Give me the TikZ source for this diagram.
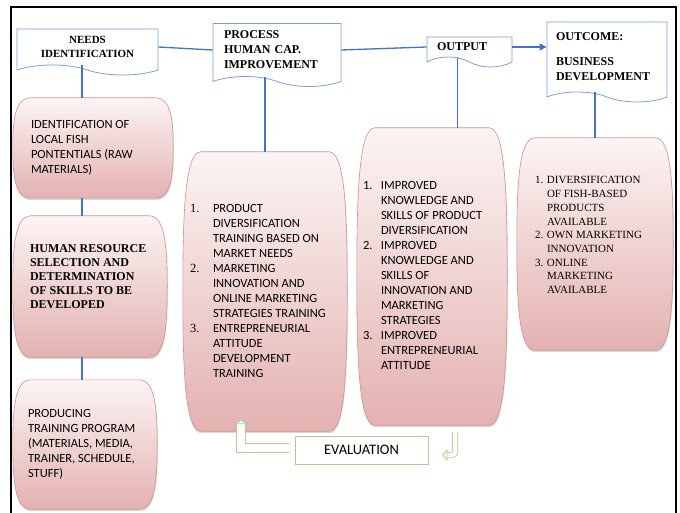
\documentclass[tikz,border=0pt]{standalone}
\usepackage{fontspec}
\setmainfont{Liberation Serif}
\newfontfamily\calibri{Carlito}
\usepackage{array}
\usetikzlibrary{shapes.symbols, arrows.meta, shadows, calc, backgrounds}
\definecolor{hdrBlue}{HTML}{7BA0D8}
\definecolor{linkBlue}{HTML}{4472C4}
\definecolor{pillTop}{HTML}{FCF4F4}
\definecolor{pillBot}{HTML}{E3B2B1}
\definecolor{pillEdge}{HTML}{D28F8E}
\definecolor{evalGreen}{HTML}{A9D18E}

\begin{document}
\begin{tikzpicture}[x=1pt, y=-1pt,
    hdr/.style={tape, tape bend top=none, tape bend bottom=out and in, tape bend height=10pt, draw=hdrBlue, line width=0.8pt, fill=white, inner sep=0pt, font=\bfseries\fontsize{12}{15}\selectfont},
    pill/.style={rectangle, inner sep=0pt},
    barrel/.style={draw=pillEdge, line width=0.6pt, top color=pillTop, bottom color=pillBot, drop shadow={shadow xshift=0.6pt, shadow yshift=-2pt, opacity=0.3}},
    sans/.style={font=\calibri\fontsize{12.5}{15}\selectfont},
    link/.style={draw=linkBlue, line width=1.3pt},
    evarr/.style={draw=evalGreen, line width=0.8pt, double=white},
    evtip/.style={draw=evalGreen, line width=0.8pt},
  ]
    \useasboundingbox (0,0) rectangle (680,513);
    \draw[line width=1.2pt] (11,513) -- (11,7) -- (676,7) -- (676,513);

    \node[hdr, minimum width=141pt, minimum height=46pt, align=center, font=\bfseries\fontsize{11}{13.5}\selectfont] (needs) at (87.5,47) {NEEDS\\IDENTIFICATION};
    \node[hdr, minimum width=128pt, minimum height=63pt, text width=106pt, align=left] (proc) at (277,50) {PROCESS\\HUMAN CAP.\\IMPROVEMENT};
    \node[hdr, minimum width=85pt, minimum height=30pt, text width=65pt, align=left] (outp) at (469.5,47) {OUTPUT};
    \node[hdr, minimum width=120pt, minimum height=80pt, text width=102pt, align=left] (outc) at (607,57) {OUTCOME:\\[10pt]BUSINESS\\DEVELOPMENT};

    \node[pill, sans, minimum width=160pt, minimum height=100pt] (idf) at (93,148)
      {\begin{tabular}{@{}p{124pt}@{}}IDENTIFICATION OF\\LOCAL FISH\\PONTENTIALS (RAW\\MATERIALS)\end{tabular}};
    \node[pill, font=\bfseries\fontsize{12}{14}\selectfont, minimum width=154pt, minimum height=141pt] (hrs) at (90,286.5)
      {\begin{tabular}{@{}p{120pt}@{}}HUMAN RESOURCE\\SELECTION AND\\DETERMINATION\\OF SKILLS TO BE\\DEVELOPED\\[18pt]\end{tabular}};
    \node[pill, sans, minimum width=144pt, minimum height=129pt] (prg) at (85,444.5)
      {\begin{tabular}{@{}p{114pt}@{}}PRODUCING\\TRAINING PROGRAM\\(MATERIALS, MEDIA,\\TRAINER, SCHEDULE,\\STUFF)\end{tabular}};
    \node[pill, sans, minimum width=164pt, minimum height=279pt] (prc) at (265,291.5)
      {\begin{tabular}{@{}p{23pt}@{}p{127pt}@{}}
        {\rmfamily 1.} & PRODUCT\\ & DIVERSIFICATION\\ & TRAINING BASED ON\\ & MARKET NEEDS\\
        {\rmfamily 2.} & MARKETING\\ & INNOVATION AND\\ & ONLINE MARKETING\\ & STRATEGIES TRAINING\\
        {\rmfamily 3.} & ENTREPRENEURIAL\\ & ATTITUDE\\ & DEVELOPMENT\\ & TRAINING
      \end{tabular}};
    \node[pill, sans, minimum width=150pt, minimum height=297pt] (opl) at (432,276.5)
      {\begin{tabular}{@{}p{18pt}@{}p{120pt}@{}}
        1. & IMPROVED\\ & KNOWLEDGE AND\\ & SKILLS OF PRODUCT\\ & DIVERSIFICATION\\
        2. & IMPROVED\\ & KNOWLEDGE AND\\ & SKILLS OF\\ & INNOVATION AND\\ & MARKETING\\ & STRATEGIES\\
        3. & IMPROVED\\ & ENTREPRENEURIAL\\ & ATTITUDE
      \end{tabular}};
    \node[pill, font=\fontsize{11}{13.7}\selectfont, minimum width=156pt, minimum height=212pt] (ocl) at (595,244)
      {\begin{tabular}{@{}p{12pt}@{}p{108pt}@{}}
        1. & DIVERSIFICATION\\ & OF FISH-BASED\\ & PRODUCTS\\ & AVAILABLE\\
        2. & OWN MARKETING\\ & INNOVATION\\
        3. & ONLINE\\ & MARKETING\\ & AVAILABLE\\[16pt]
      \end{tabular}};
    \node[draw=evalGreen, line width=0.8pt, minimum width=133pt, minimum height=28pt, font=\calibri\fontsize{14.5}{16}\selectfont] (eval) at (361.5,450) {EVALUATION};

    \begin{scope}[on background layer]
      \foreach \pl in {idf, hrs, prg, prc, opl, ocl}
        \path[barrel] ([xshift=18pt]\pl.north west) -- ([xshift=-18pt]\pl.north east)
          .. controls ([xshift=-2pt]\pl.north east) and ($(\pl.north east)!0.45!(\pl.east)$) .. (\pl.east)
          .. controls ($(\pl.south east)!0.45!(\pl.east)$) and ([xshift=-2pt]\pl.south east) .. ([xshift=-18pt]\pl.south east)
          -- ([xshift=18pt]\pl.south west)
          .. controls ([xshift=2pt]\pl.south west) and ($(\pl.south west)!0.45!(\pl.west)$) .. (\pl.west)
          .. controls ($(\pl.north west)!0.45!(\pl.west)$) and ([xshift=2pt]\pl.north west) .. cycle;
    \end{scope}

    \coordinate (spine) at (82,0);
    \draw[link] (needs.south -| spine) -- (idf.north -| spine);
    \draw[link] (idf.south -| spine) -- (hrs.north -| spine);
    \draw[link] (hrs.south -| spine) -- (prg.north -| spine);
    \draw[link] (needs.east) -- (proc.west);
    \draw[link] (proc.east) -- (outp.west);
    \draw[link, -{Triangle[length=7pt, width=7pt]}] (outp.east) -- (outp.east -| outc.west);
    \draw[link] (proc.south -| prc.north) -- (prc.north);
    \draw[link] ([xshift=-12pt]outp.south) -- ([xshift=-12pt]outp.south |- opl.north);
    \draw[link] (outc.south -| ocl.north) -- (ocl.north);

    \draw[evarr, double distance=8.5pt] ([xshift=-6pt, yshift=2pt]eval.west) -| ([xshift=-24pt, yshift=8pt]prc.south) coordinate (upL);
    \draw[evtip, -{Triangle[fill=white, length=4pt, width=17pt]}] (upL) -- ([yshift=3pt]upL);
    \draw[evarr, double distance=4.5pt, rounded corners=3pt] ([xshift=23pt, yshift=-7pt]opl.south) |- ([xshift=17pt, yshift=-5pt]eval.east) coordinate (upR);
    \draw[evtip, -{Triangle[fill=white, length=5pt, width=12pt]}] (upR) -- ([xshift=-3pt]upR);
  \end{tikzpicture}
\end{document}
